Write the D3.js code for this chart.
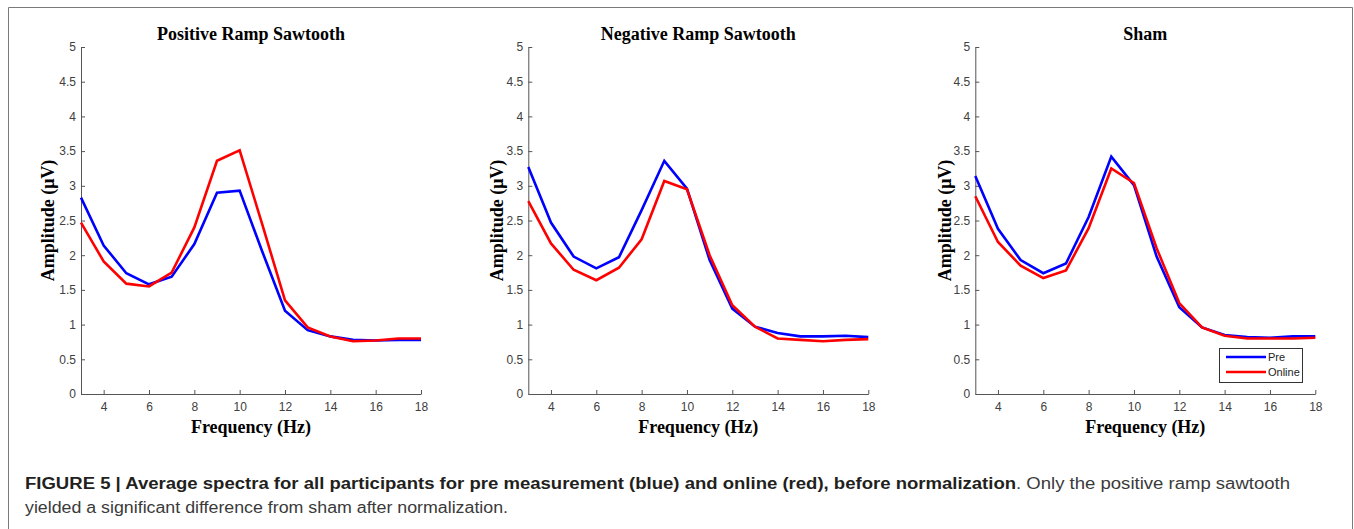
<!DOCTYPE html>
<html>
<head>
<meta charset="utf-8">
<script src="https://cdn.jsdelivr.net/npm/d3@7"></script>
<style>
html,body{margin:0;padding:0;background:#fff;}
svg{display:block;}
</style>
</head>
<body>
<svg id="chart" width="1354" height="529"></svg>
<script>
// ---------- data ----------
const freqs = [3,4,5,6,7,8,9,10,11,12,13,14,15,16,17,18];
const positivePre    = [2.83,2.14,1.74,1.58,1.69,2.16,2.90,2.93,2.05,1.20,0.92,0.83,0.78,0.77,0.78,0.78];
const positiveOnline = [2.47,1.91,1.59,1.55,1.75,2.40,3.36,3.51,2.44,1.35,0.96,0.83,0.76,0.77,0.80,0.80];
const negativePre    = [3.27,2.47,1.98,1.81,1.97,2.65,3.36,2.96,1.93,1.23,0.97,0.88,0.83,0.83,0.84,0.82];
const negativeOnline = [2.78,2.17,1.79,1.64,1.82,2.23,3.07,2.95,2.00,1.28,0.97,0.80,0.78,0.76,0.78,0.79];
const shamPre        = [3.14,2.38,1.93,1.74,1.88,2.55,3.42,3.01,1.98,1.25,0.96,0.85,0.82,0.81,0.83,0.83];
const shamOnline     = [2.85,2.19,1.85,1.67,1.78,2.39,3.25,3.04,2.10,1.31,0.96,0.84,0.80,0.80,0.80,0.81];
const panelTitles = ["Positive Ramp Sawtooth","Negative Ramp Sawtooth","Sham"];
const xTicks = [4,6,8,10,12,14,16,18];
const yTicks = [0,0.5,1,1.5,2,2.5,3,3.5,4,4.5,5];
const seriesNames = ["Pre","Online"];
const seriesColors = ["#0000ff","#ff0000"];
const xLabel = "Frequency (Hz)";
const yLabel = "Amplitude (μV)";
const captionBold = "FIGURE 5 | Average spectra for all participants for pre measurement (blue) and online (red), before normalization";
const captionRest1 = ". Only the positive ramp sawtooth";
const captionLine2 = "yielded a significant difference from sham after normalization.";

const panelData = [
  [positivePre, positiveOnline],
  [negativePre, negativeOnline],
  [shamPre, shamOnline]
];

// ---------- layout ----------
const svg = d3.select("#chart");
const panelLeft = [81, 528.3, 975.3];
const yLabelOffset = [27, 25, 24];
const plotW = 340, plotTop = 47, plotBottom = 394;
const axisColor = "#555555";
const tickColor = "#404040";

// outer frame
svg.append("path")
  .attr("d", "M8.5,540 V7.5 H1352.5 V540")
  .attr("fill","none").attr("stroke","#7a7a7a").attr("stroke-width",1);

const y = d3.scaleLinear().domain([0,5]).range([plotBottom, plotTop]);

panelData.forEach((series, i) => {
  const left = panelLeft[i];
  const x = d3.scaleLinear().domain([3,18]).range([left, left + plotW]);
  const g = svg.append("g");

  // x axis
  const xAxis = d3.axisBottom(x).tickValues(xTicks).tickSizeInner(-4).tickSizeOuter(0).tickPadding(8)
    .tickFormat(d3.format("d"));
  const gx = g.append("g").attr("transform", `translate(0,${plotBottom})`).call(xAxis);
  gx.select(".domain").attr("stroke", axisColor);
  gx.selectAll(".tick line").attr("stroke", axisColor);
  gx.selectAll(".tick text").attr("fill", tickColor)
    .style("font-family","'Liberation Sans', Arial, sans-serif").style("font-size","12px");

  // y axis
  const yAxis = d3.axisLeft(y).tickValues(yTicks).tickSizeInner(-4).tickSizeOuter(0).tickPadding(5)
    .tickFormat(d => String(d));
  const gy = g.append("g").attr("transform", `translate(${left},0)`).call(yAxis);
  gy.select(".domain").attr("stroke", axisColor);
  gy.selectAll(".tick line").attr("stroke", axisColor);
  gy.selectAll(".tick text").attr("fill", tickColor)
    .style("font-family","'Liberation Sans', Arial, sans-serif").style("font-size","12px");

  // lines
  const line = d3.line().x((d, k) => x(freqs[k])).y(d => y(d));
  series.forEach((vals, s) => {
    g.append("path").datum(vals)
      .attr("d", line)
      .attr("fill","none")
      .attr("stroke", seriesColors[s])
      .attr("stroke-width", 2.6)
      .attr("stroke-linejoin","miter");
  });

  // title
  g.append("text")
    .attr("x", left + plotW/2).attr("y", 40)
    .attr("text-anchor","middle")
    .style("font-family","'Liberation Serif','Times New Roman',serif")
    .style("font-weight","bold").style("font-size","18px")
    .attr("fill","#000")
    .text(panelTitles[i]);

  // x label
  g.append("text")
    .attr("x", left + plotW/2).attr("y", 433)
    .attr("text-anchor","middle")
    .style("font-family","'Liberation Serif','Times New Roman',serif")
    .style("font-weight","bold").style("font-size","18px")
    .attr("fill","#000")
    .text(xLabel);

  // y label
  g.append("text")
    .attr("transform", `translate(${left - yLabelOffset[i]},${(plotTop+plotBottom)/2}) rotate(-90)`)
    .attr("text-anchor","middle")
    .style("font-family","'Liberation Serif','Times New Roman',serif")
    .style("font-weight","bold").style("font-size","18px")
    .attr("fill","#000")
    .text(yLabel);

  // legend on last panel
  if (i === 2) {
    const lg = g.append("g");
    lg.append("rect").attr("x",1219.5).attr("y",348.5).attr("width",83).attr("height",34)
      .attr("fill","#fff").attr("stroke","#333").attr("stroke-width",1);
    seriesNames.forEach((name, s) => {
      const ly = 357 + s*15;
      lg.append("line").attr("x1",1226).attr("x2",1266).attr("y1",ly).attr("y2",ly)
        .attr("stroke",seriesColors[s]).attr("stroke-width",2.6);
      lg.append("text").attr("x",1268).attr("y",ly+4)
        .style("font-family","'Liberation Sans', Arial, sans-serif").style("font-size","11px")
        .attr("fill","#222").text(name);
    });
  }
});

// caption
const cap = svg.append("text").attr("x",25).attr("y",489)
  .style("font-family","'Liberation Sans', Arial, sans-serif").style("font-size","16px")
  .attr("textLength",1265).attr("lengthAdjust","spacingAndGlyphs");
cap.append("tspan").style("font-weight","bold").attr("fill","#231f20").text(captionBold);
cap.append("tspan").attr("fill","#3a3a3a").text(captionRest1);

svg.append("text").attr("x",25).attr("y",513)
  .style("font-family","'Liberation Sans', Arial, sans-serif").style("font-size","16px")
  .attr("fill","#3a3a3a")
  .attr("textLength",483).attr("lengthAdjust","spacingAndGlyphs")
  .text(captionLine2);
</script>
</body>
</html>
